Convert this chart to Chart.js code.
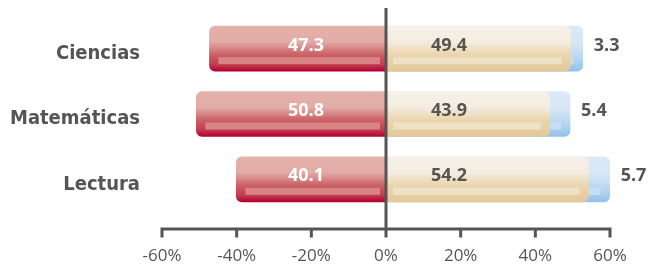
<!DOCTYPE html>
<html>
<head>
<meta charset="utf-8">
<script src="https://cdn.jsdelivr.net/npm/chart.js@4"></script>
<style>
  html, body { margin: 0; padding: 0; background: #fff; }
  #wrap { width: 652px; height: 274px; }
</style>
</head>
<body>
<div id="wrap"><canvas id="chart"></canvas></div>
<script>
// data
const categories = ['Ciencias', 'Matemáticas', 'Lectura'];
const negValues = [-47.3, -50.8, -40.1];
const posValues = [49.4, 43.9, 54.2];
const extraValues = [3.3, 5.4, 5.7];
const xTicks = [-60, -40, -20, 0, 20, 40, 60];

const BAR = 45;
const INK = '#555555';

// blue bar sits behind the beige one, so it runs from 0 to beige + blue
const extraTotals = posValues.map((v, i) => v + extraValues[i]);

function barGradient(stops) {
  return function(ctx) {
    const chart = ctx.chart;
    const yScale = chart.scales && chart.scales.y;
    if (!chart.chartArea || ctx.dataIndex === undefined || !yScale) return stops[stops.length - 1][1];
    const c = yScale.getPixelForValue(ctx.dataIndex);
    const g = chart.ctx.createLinearGradient(0, c - BAR / 2, 0, c + BAR / 2);
    stops.forEach(s => g.addColorStop(s[0], s[1]));
    return g;
  };
}

const redFill = barGradient([[0, '#e5b1ab'], [0.35, '#e2aca6'], [0.62, '#cc6468'], [0.86, '#c23a50'], [1, '#b3002f']]);
const beigeFill = barGradient([[0, '#f6f1e8'], [0.35, '#f4ece0'], [0.62, '#ebd6b0'], [1, '#e3c899']]);
const blueFill = barGradient([[0, '#dde9f6'], [0.4, '#d6e6f5'], [0.7, '#b8d7f1'], [1, '#90c2ec']]);

// the pale strip near the bottom of every bar
const stripPlugin = {
  id: 'strip',
  afterDatasetDraw(chart, args) {
    const ds = chart.data.datasets[args.index];
    const ctx = chart.ctx;
    ctx.save();
    ctx.fillStyle = ds.stripColor;
    args.meta.data.forEach(bar => {
      const left = Math.min(bar.x, bar.base);
      const right = Math.max(bar.x, bar.base);
      const top = bar.y - BAR / 2;
      const l = bar.x < bar.base ? left + 9 : left + 7;
      const r = bar.x < bar.base ? right - 6 : right - 9;
      ctx.fillRect(l, top + 31, r - l, 7);
    });
    ctx.restore();
  }
};

// value labels, zero line and the x axis line with its ticks
const overlayPlugin = {
  id: 'overlay',
  afterDatasetsDraw(chart) {
    const ctx = chart.ctx;
    const x = chart.scales.x;
    const zero = x.getPixelForValue(0);
    const axisY = 229;

    ctx.save();
    ctx.strokeStyle = INK;
    ctx.lineWidth = 3;
    ctx.beginPath();
    ctx.moveTo(x.getPixelForValue(xTicks[0]), axisY);
    ctx.lineTo(x.getPixelForValue(xTicks[xTicks.length - 1]), axisY);
    xTicks.forEach(t => {
      const px = x.getPixelForValue(t);
      ctx.moveTo(px, axisY - 1.5);
      ctx.lineTo(px, axisY + 8.5);
    });
    ctx.moveTo(zero, 8);
    ctx.lineTo(zero, axisY + 8.5);
    ctx.stroke();

    ctx.font = 'bold 18px "Open Sans"';
    ctx.textBaseline = 'middle';
    const metaNeg = chart.getDatasetMeta(2);
    const metaPos = chart.getDatasetMeta(0);
    const metaExtra = chart.getDatasetMeta(1);
    metaNeg.data.forEach((bar, i) => {
      ctx.fillStyle = '#ffffff';
      ctx.textAlign = 'center';
      ctx.fillText(Math.abs(negValues[i]).toFixed(1), zero - 80, bar.y - 3);
    });
    metaPos.data.forEach((bar, i) => {
      ctx.fillStyle = INK;
      ctx.textAlign = 'left';
      ctx.fillText(posValues[i].toFixed(1), zero + 45, bar.y - 3);
    });
    metaExtra.data.forEach((bar, i) => {
      ctx.fillStyle = INK;
      ctx.textAlign = 'left';
      ctx.fillText(extraValues[i].toFixed(1), bar.x + 11, bar.y - 3);
    });
    ctx.restore();
  }
};

new Chart(document.getElementById('chart').getContext('2d'), {
  type: 'bar',
  data: {
    labels: categories,
    datasets: [
      { data: posValues, backgroundColor: beigeFill, stripColor: '#efe1c5', grouped: false, barThickness: BAR, borderRadius: 6 },
      { data: extraTotals, backgroundColor: blueFill, stripColor: '#c6dff3', grouped: false, barThickness: BAR, borderRadius: 6 },
      { data: negValues, backgroundColor: redFill, stripColor: '#d98484', grouped: false, barThickness: BAR, borderRadius: 6 }
    ]
  },
  options: {
    indexAxis: 'y',
    responsive: true,
    maintainAspectRatio: false,
    animation: false,
    layout: { padding: { left: 0, right: 42, top: 16, bottom: 0 } },
    plugins: { legend: { display: false }, tooltip: { enabled: false } },
    scales: {
      x: {
        min: -60,
        max: 60,
        afterBuildTicks: scale => { scale.ticks = xTicks.map(v => ({ value: v })); },
        afterFit: scale => {
          scale.height = 62;
          scale.paddingLeft = 0;
          scale.paddingRight = 0;
        },
        grid: { display: false, drawTicks: false },
        border: { display: false },
        ticks: {
          padding: 34,
          color: INK,
          font: { family: '"Open Sans"', size: 17 },
          callback: v => v + '%'
        }
      },
      y: {
        afterFit: scale => {
          scale.width = 162;
          scale.paddingTop = 0;
          scale.paddingBottom = 0;
        },
        grid: { display: false, drawTicks: false },
        border: { display: false },
        ticks: {
          padding: 22,
          labelOffset: 5,
          color: INK,
          font: { family: '"DejaVu Sans Condensed"', size: 20, weight: 'bold' }
        }
      }
    }
  },
  plugins: [stripPlugin, overlayPlugin]
});
</script>
</body>
</html>
